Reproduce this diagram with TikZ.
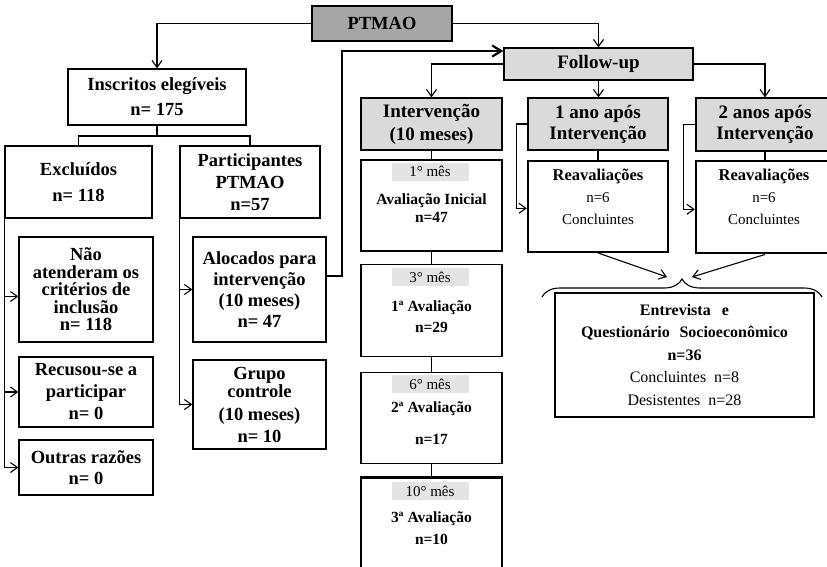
\documentclass[tikz,border=0pt]{standalone}
\usepackage{fontspec}
\setmainfont{Liberation Serif}
\usepackage{tikz}
\usetikzlibrary{arrows.meta, positioning, decorations.pathreplacing}
\definecolor{ptgray}{RGB}{166,166,166}
\definecolor{headgray}{RGB}{218,218,218}
\definecolor{bandgray}{RGB}{228,228,228}
\tikzstyle{flowbox} = [rectangle, draw=black, line width=1.3pt, fill=white,
inner sep=0pt, align=center, font=\bfseries\fontsize{18.5}{21}\selectfont]
\tikzstyle{headbox} = [flowbox, fill=headgray, font=\bfseries\fontsize{19}{21}\selectfont]
\tikzstyle{stagebox} = [flowbox, minimum width=141]
\tikzstyle{band} = [rectangle, fill=bandgray, minimum width=77, minimum height=18,
inner sep=0pt, font=\fontsize{15}{18}\selectfont]
\tikzstyle{stagetext} = [align=center, inner sep=0pt, font=\bfseries\fontsize{15.5}{18}\selectfont]
\tikzstyle{reavtext} = [align=center, inner sep=0pt, font=\fontsize{15}{22}\selectfont]
\tikzstyle{arrow} = [-{Straight Barb[length=7pt,width=10pt]}, line width=1.1pt]
\tikzstyle{link} = [line width=1.1pt]
\tikzstyle{thickarrow} = [-{Straight Barb[length=9pt,width=11pt]}, line width=2.2pt]

\begin{document}
\begin{tikzpicture}[x=1pt, y=-1pt]
    \useasboundingbox (0,0) rectangle (827,566);
    \clip (0,0) rectangle (827,566);

    % enrolment side
    \node (ptmao)  [flowbox, fill=ptgray, minimum width=140, minimum height=35] at (382,23.5) {PTMAO};
    \node (inscr)  [flowbox, minimum width=178, minimum height=56] at (157,97) {Inscritos elegíveis\\[4pt] n= 175};
    \node (excl)   [flowbox, minimum width=147, minimum height=72] at (78.5,182) {Excluídos\\[5pt] n= 118};
    \node (part)   [flowbox, minimum width=140, minimum height=72] at (250,182) {Participantes\\[1pt] PTMAO\\[1pt] n=57};
    \node (naoat)  [flowbox, minimum width=134, minimum height=105,
    font=\bfseries\fontsize{18.5}{17.5}\selectfont] at (86,289.5)
    {Não\\ atenderam os\\ critérios de\\ inclusão\\ n= 118};
    \node (recus)  [flowbox, minimum width=134, minimum height=70] at (86,392) {Recusou-se a\\[1pt] participar\\[1pt] n= 0};
    \node (outras) [flowbox, minimum width=134, minimum height=55] at (86,467.5) {Outras razões\\ n= 0};
    \node (aloc)   [flowbox, minimum width=133, minimum height=105] at (259.5,289.5) {Alocados para\\ intervenção\\ (10 meses)\\ n= 47};
    \node (grupo)  [flowbox, minimum width=133, minimum height=89] at (259.5,404.5) {Grupo\\[-3pt] controle\\[2pt] (10 meses)\\[1pt] n= 10};

    % follow-up side
    \node (follow) [headbox, minimum width=189, minimum height=32] at (598.5,64) {Follow-up};
    \node (interv) [headbox, minimum width=141, minimum height=52] at (431.5,124) {Intervenção\\[2pt] (10 meses)};
    \node (ano1)   [headbox, minimum width=140, minimum height=52] at (598,124) {1 ano após\\ Intervenção};
    \node (ano2)   [headbox, minimum width=138, minimum height=53] at (765,124.5) {2 anos após\\ Intervenção};

    \node (mes1)  [stagebox, minimum height=91] at (431.5,205.5) {};
    \node (mes3)  [stagebox, minimum height=92, below=12pt of mes1] {};
    \node (mes6)  [stagebox, minimum height=91, below=15pt of mes3] {};
    \node (mes10) [stagebox, minimum height=92, line width=2.3pt, below=12pt of mes6] {};

    \node (band1)  [band, anchor=north] at ([xshift=-1.5pt, yshift=-3pt]mes1.north) {1° mês};
    \node (band3)  [band, anchor=north] at ([xshift=-1.5pt, yshift=-4pt]mes3.north) {3° mês};
    \node (band6)  [band, anchor=north] at ([xshift=-1.5pt, yshift=-3pt]mes6.north) {6° mês};
    \node (band10) [band, anchor=north] at ([xshift=-1.5pt, yshift=-6pt]mes10.north) {10° mês};

    \node (txt1)  [stagetext] at (431.5,208.5) {Avaliação Inicial\\ n=47};
    \node (txt3)  [stagetext] at (431.5,317) {1ª Avaliação\\[3pt] n=29};
    \node (txt6)  [stagetext] at (431.5,423.5) {2ª Avaliação\\[14pt] n=17};
    \node (txt10) [stagetext] at (431.5,528.5) {3ª Avaliação\\[4pt] n=10};

    \node (reav1) [flowbox, line width=2.3pt, minimum width=140, minimum height=91, below=9pt of ano1] {};
    \node (reav2) [flowbox, line width=2.3pt, minimum width=138, minimum height=92, below=8.5pt of ano2] {};
    \node (reavtxt1) [reavtext] at (598,197) {{\bfseries\fontsize{16.5}{22}\selectfont Reavaliações}\\ n=6\\ Concluintes};
    \node (reavtxt2) [reavtext] at (764,197) {{\bfseries\fontsize{16.5}{22}\selectfont Reavaliações}\\ n=6\\ Concluintes};

    \node (entrev) [flowbox, minimum width=259, minimum height=124,
    font=\bfseries\fontsize{16}{22.5}\selectfont] at (684.5,355)
    {Entrevista\hspace{0.7em}e\\ Questionário\hspace{0.6em}Socioeconômico\\ n=36\\
        {\mdseries Concluintes\hspace{0.5em}n=8}\\ {\mdseries Desistentes\hspace{0.5em}n=28}};

    \coordinate (split) at (157,136);
    \coordinate (meetl) at (667,277);
    \coordinate (meetr) at (692,277);

    \draw[arrow] (ptmao.west) -| (inscr.north);
    \draw[arrow] (ptmao.east) -| (follow.north);
    \draw[link]  (inscr.south) -- (split);
    \draw[link]  (excl.north) |- (split) -| (part.north);

    \draw[arrow] (excl.south west) |- ([yshift=-7pt]naoat.west);
    \draw[arrow] (excl.south west) |- (recus.west);
    \draw[arrow] (excl.south west) |- (outras.west);
    \draw[arrow] (part.south west) |- (aloc.west);
    \draw[arrow] (part.south west) |- (grupo.west);

    \draw[thickarrow] ([yshift=13.5pt]aloc.east) -- ++(15,0) |- ([yshift=13pt]follow.west);

    \draw[arrow] (follow.west) -| (interv.north);
    \draw[arrow] (follow.south) -- (follow.south |- ano1.north);
    \draw[arrow] (follow.east) -| (ano2.north);

    \draw[link] (interv.south) -- (mes1.north);
    \draw[link] (mes1.south) -- (mes3.north);
    \draw[link] (mes3.south) -- (mes6.north);
    \draw[link] (mes6.south) -- (mes10.north);

    \draw[link]  (ano1.south) -- (reav1.north);
    \draw[link]  (ano2.south) -- (reav2.north);
    \draw[arrow] (ano1.west) -- ++(-11,0) |- ([yshift=-2pt]reav1.west);
    \draw[arrow] (ano2.west) -- ++(-12,0) |- ([yshift=-2pt]reav2.west);

    \draw[arrow] (reav1.south) -- (meetl);
    \draw[arrow] (reav2.south) -- (meetr);
    \draw[link, decorate, decoration={brace, amplitude=18pt}] (542,297) -- (822,297);
\end{tikzpicture}
\end{document}
